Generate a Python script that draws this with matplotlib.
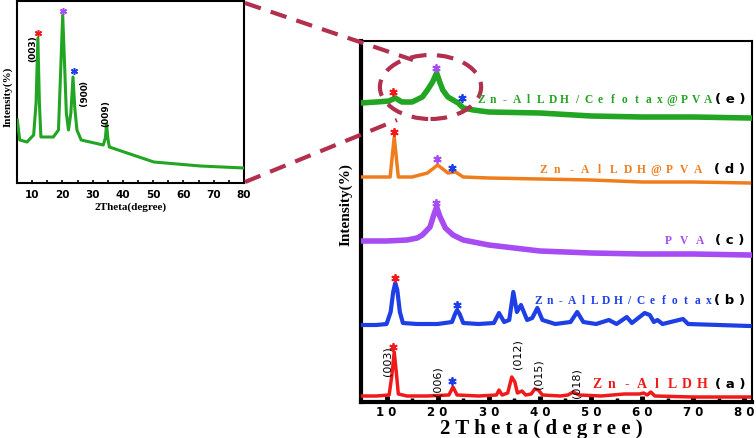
import matplotlib
matplotlib.use("Agg")
import matplotlib.pyplot as plt
from matplotlib.patches import Ellipse
from matplotlib.lines import Line2D

W, H = 756, 439

# ---------------- data (2theta, intensity in arbitrary offset units) ----------------
a_x = [5, 8, 10.5, 11.0, 11.5, 11.9, 12.3, 14, 18, 22.2, 23.0, 23.8, 28, 31.5, 32.0, 32.6, 33.7, 34.5, 35.1, 35.6,
       36.5, 37.2, 38.3, 39.0, 39.7, 40.5, 44, 45.5, 46.5, 47.7, 52, 56.5, 59.5, 60.3, 61.0, 61.7, 62.5, 70, 81]
a_y = [6, 6, 7, 25, 50, 30, 8, 6, 6, 7, 15, 7, 6, 7, 12, 7, 9, 25, 20, 9,
       11, 7, 8, 13, 12, 7, 6, 7, 10, 7, 6, 8, 8, 9, 7, 10, 6, 5, 5]

b_x = [5, 8, 10.0, 10.8, 11.3, 11.7, 12.1, 12.6, 13.2, 16, 20, 22.8, 23.4, 23.8, 24.3, 25.0, 28, 31.0, 32.0, 33.0,
       34.0, 34.8, 35.5, 36.3, 37.5, 38.5, 39.5, 40.5, 43, 46, 47.3, 48.5, 51, 53.5, 55, 57, 58, 60.5, 61.5, 62.3,
       63, 64, 68, 69, 75, 81]
b_y = [77, 77, 78, 90, 110, 119, 112, 90, 79, 78, 78, 80, 88, 92, 88, 79, 78, 79, 89, 80,
       82, 110, 90, 97, 82, 84, 94, 82, 78, 80, 90, 80, 78, 82, 78, 85, 79, 89, 87, 80,
       82, 78, 83, 78, 77, 76]

c_x = [5, 10, 14, 16, 17, 18.5, 19.3, 19.8, 20.4, 21.5, 23, 25, 30, 35, 40, 50, 60, 70, 81]
c_y = [161, 161, 162, 164, 167, 175, 188, 195, 186, 174, 167, 162, 157, 154, 151, 149, 148, 148, 147]

d_x = [5, 8, 10.7, 11.1, 11.5, 11.9, 12.3, 15, 18, 20, 22, 23.5, 25, 30, 40, 50, 60, 70, 81]
d_y = [225, 225, 225, 245, 265, 245, 225, 225, 229, 237, 229, 230, 225, 224, 223, 222, 220, 220, 219]

e_x = [5, 8, 10.5, 11.7, 13, 15, 17, 18, 19.0, 19.8, 20.4, 21, 22, 23, 24, 25, 27, 30, 40, 50, 60, 70, 81]
e_y = [299, 300, 301, 304, 300, 300, 305, 312, 320, 329, 320, 312, 305, 302, 299, 294, 292, 290, 289, 286, 285, 285, 284]

inset_x = [5.1, 5.9, 8.3, 10.5, 11.3, 11.9, 12.4, 12.9, 17, 18.7, 19.4, 20.1, 20.7, 21.3, 22.0, 22.8, 23.5, 24.1,
           24.8, 26.2, 33.5, 34.2, 34.6, 35.0, 35.5, 50.2, 65.6, 80]
inset_y = [63, 43, 41, 48, 80, 145, 80, 46, 46, 53, 110, 168, 120, 70, 53, 70, 106, 75,
           53, 43, 38, 45, 59, 45, 36, 21, 17, 15]

series_names = ["Zn-AlLDH", "Zn-AlLDH/Cefotax", "PVA", "Zn-AlLDH@PVA", "Zn-AlLDH/Cefotax@PVA"]
series_tags = ["( a )", "( b )", "( c )", "( d )", "( e )"]

xticks = [10, 20, 30, 40, 50, 60, 70, 80]
xtick_labels = ["1 0", "2 0", "3 0", "4 0", "5 0", "6 0", "7 0", "8 0"]
minor_ticks = [15, 25, 35, 45, 55, 65, 75]

miller_main = ["(003)", "(006)", "(012)", "(015)", "(018)"]
miller_main_x = [10.1, 20.0, 35.6, 39.8, 47.1]
miller_main_y = [42, 22, 49, 29, 20]

miller_inset = ["(003)", "(006)", "(009)"]
miller_inset_x = [10.3, 25.9, 34.2]
miller_inset_y = [135, 90, 70]
miller_inset_rot = [90, 270, 90]

stars_x = [11.3, 22.8, 11.65, 23.8, 19.6, 11.46, 19.8, 22.8, 11.3, 19.6, 24.8]
stars_y = [55, 21, 124, 97, 199, 270, 243, 234, 310, 334, 304]
stars_c = ["r", "b", "r", "b", "p", "r", "p", "b", "r", "p", "b"]

inset_star_x = [12.0, 20.3, 23.9]
inset_star_y = [150, 172, 112]
inset_star_c = ["r", "p", "b"]

# ---------------- styling / layout ----------------
RED = "#f01a1a"
BLUE = "#1f3fe6"
PURPLE = "#a64cf2"
ORANGE = "#ef7d1c"
GREEN = "#22a522"
DASH = "#b2304e"
cmap = {"r": RED, "b": BLUE, "p": PURPLE}
colors = [RED, BLUE, PURPLE, ORANGE, GREEN]
lws = [2.5, 3.0, 4.0, 2.5, 4.0]
# label layout in figure pixels: first glyph centre, last glyph centre, baseline-centre y, font size
label_px = [(597, 702, 385, 10), (538, 709, 301, 8.3), (668, 700, 241, 8.3),
            (543, 698, 170, 8.3), (481, 708, 100, 8.3)]

fig = plt.figure(figsize=(W / 100, H / 100), dpi=100)
serif = ["Liberation Serif", "DejaVu Serif"]

# ---------------- main axes ----------------
L, R, T, B = 361, 752, 42, 403
ax = fig.add_axes([L / W, 1 - B / H, (R - L) / W, (B - T) / H])
ax.set_xlim(5, 81.5)
ax.set_ylim(0, 361)

curves = [(a_x, a_y), (b_x, b_y), (c_x, c_y), (d_x, d_y), (e_x, e_y)]
for (cx, cy), col, lw in zip(curves, colors, lws):
    ax.plot(cx, cy, color=col, lw=lw, solid_joinstyle="round", zorder=3)

for sx, sy, sc in zip(stars_x, stars_y, stars_c):
    ax.plot([sx], [sy], marker=(6, 2, 0), ms=6, mew=1.3, color=cmap[sc], zorder=5)

for name, tag, (x0, x1, py, fs), col in zip(series_names, series_tags, label_px, colors):
    n = len(name)
    for i, ch in enumerate(name):
        px = x0 + (x1 - x0) * i / (n - 1)
        fig.text(px / W, 1 - py / H, ch, color=col, fontsize=fs, fontweight="bold", family=serif,
                 ha="center", va="center", zorder=6)
    fig.text(730 / W, 1 - py / H, tag, color="black", fontsize=9.5, fontweight="bold",
             family="DejaVu Sans", ha="center", va="center", zorder=6)

for t, mx, my in zip(miller_main, miller_main_x, miller_main_y):
    ax.text(mx, my, t, rotation=90, fontsize=8, ha="center", va="center", zorder=6)

ell = Ellipse((18.6, 315), 19.8, 64, fill=False, ls=(0, (4, 2.5)), lw=3, edgecolor=DASH, zorder=7)
ax.add_patch(ell)

ax.set_yticks([])
ax.set_xticks(xticks)
ax.set_xticklabels(xtick_labels, fontweight="bold", fontsize=8.5)
ax.set_xticks(minor_ticks, minor=True)
ax.tick_params(axis="x", which="major", direction="in", length=4, width=3.5, pad=2.5)
ax.tick_params(axis="x", which="minor", direction="in", length=3, width=2.5)
for s in ["left", "bottom"]:
    ax.spines[s].set_linewidth(3)
for s in ["top", "right"]:
    ax.spines[s].set_linewidth(1.5)

fig.text(541 / W, 1 - 429 / H, "2 T h e t a ( d e g r e e )", family=serif, fontweight="bold",
         fontsize=15, ha="center", va="center")
fig.text(346 / W, 1 - 205 / H, "Intensity(%)", family=serif, fontweight="bold", fontsize=11,
         rotation=90, ha="center", va="center")

# ---------------- inset ----------------
iL, iR, iT, iB = 17, 244, 2, 184
ax2 = fig.add_axes([iL / W, 1 - iB / H, (iR - iL) / W, (iB - iT) / H])
ax2.set_xlim(5, 80)
ax2.set_ylim(0, 182)
ax2.plot(inset_x, inset_y, color=GREEN, lw=2.2, zorder=3)
for sx, sy, sc in zip(inset_star_x, inset_star_y, inset_star_c):
    ax2.plot([sx], [sy], marker=(6, 2, 0), ms=5, mew=1.1, color=cmap[sc], zorder=5)
for t, mx, my, rot in zip(miller_inset, miller_inset_x, miller_inset_y, miller_inset_rot):
    ax2.text(mx, my, t, rotation=rot, fontsize=6.5, fontweight="bold", ha="center", va="center")
ax2.set_yticks([])
ax2.set_xticks(xticks)
ax2.set_xticklabels([str(v) for v in xticks], fontweight="bold", fontsize=7.5)
ax2.set_xticks(minor_ticks, minor=True)
ax2.tick_params(axis="x", which="both", direction="in", length=2.5, width=1.2, pad=4)
for s in ax2.spines.values():
    s.set_linewidth(1.5)
fig.text(131 / W, 1 - 207 / H, "2Theta(degree)", family=serif, fontweight="bold", fontsize=8,
         ha="center", va="center")
fig.text(8 / W, 1 - 97 / H, "Intensity(%)", family=serif, fontweight="bold", fontsize=8,
         rotation=90, ha="center", va="center")

# ---------------- dashed connectors ----------------
def fpt(px, py):
    return px / W, 1 - py / H

for (x0, y0), (x1, y1) in [((245, 4), (413, 61)), ((245, 183), (397, 121))]:
    p0, p1 = fpt(x0, y0), fpt(x1, y1)
    fig.add_artist(Line2D([p0[0], p1[0]], [p0[1], p1[1]], color=DASH, lw=3,
                          ls=(0, (4, 2.5)), zorder=10))

fig.savefig("out.png", dpi=100)
